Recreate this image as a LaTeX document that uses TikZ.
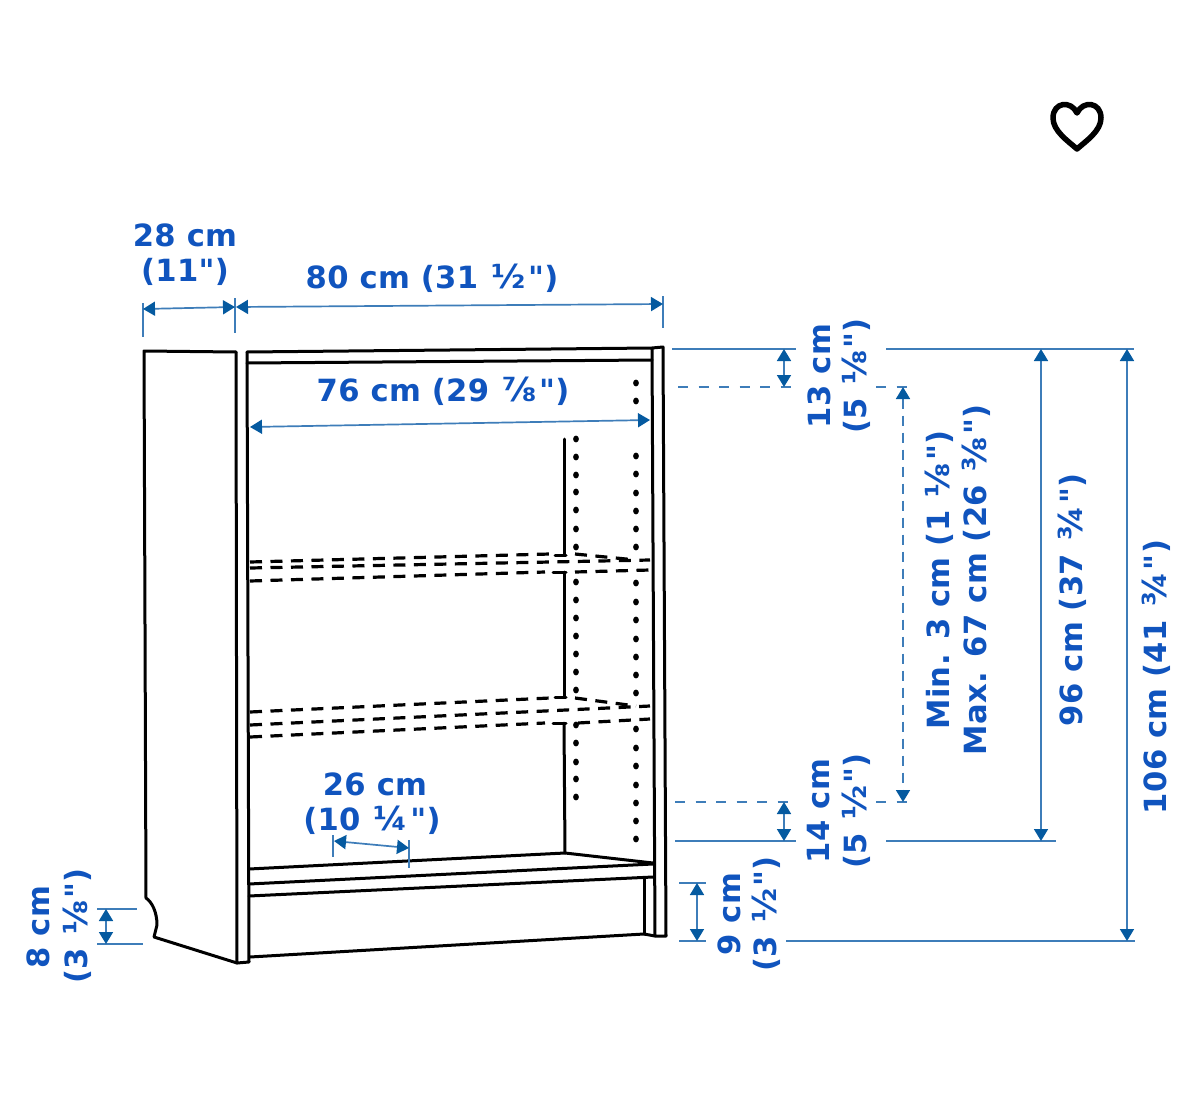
\documentclass[tikz,border=0pt]{standalone}
\usepackage{fontspec}
\setmainfont{DejaVu Sans}[Ligatures=TeXOff,LetterSpace=1]
\usetikzlibrary{arrows.meta}
\definecolor{dimline}{RGB}{62,125,185}
\definecolor{dimhead}{RGB}{5,90,160}
\definecolor{dimtext}{RGB}{16,84,190}
\newcommand{\fracglyph}[1]{\hspace{.08em}{\fontsize{33}{36}\selectfont #1}\hspace{.08em}}
\tikzset{
  ink/.style={draw=black,line width=3pt,line cap=round,line join=round},
  shelfdash/.style={draw=black,line width=3.2pt,dash pattern=on 12pt off 8.5pt},
  dimrule/.style={draw=dimline,line width=1.7pt},
  dimdash/.style={draw=dimline,line width=1.5pt,dash pattern=on 10pt off 10.5pt},
  dimarrow/.style={draw=dimline,line width=1.7pt,{Triangle[length=12pt,width=14pt,color=dimhead,fill=dimhead]}-{Triangle[length=12pt,width=14pt,color=dimhead,fill=dimhead]}},
  dimlabel/.style={text=dimtext,font=\fontsize{30.6}{36}\selectfont\bfseries,inner sep=0pt,anchor=center},
  uplabel/.style={dimlabel,rotate=90},
  hole/.style={fill=black,draw=none}
}
\begin{document}
\begin{tikzpicture}[x=1pt,y=-1pt]
\path[use as bounding box,fill=white] (0,0) rectangle (1200,1116);

% heart
\draw[line width=5.5pt,line join=round,black] (1077,149)
  .. controls (1068,141) and (1053,131) .. (1053,118)
  .. controls (1053,102) and (1071,100) .. (1077,113)
  .. controls (1083,100) and (1101,102) .. (1101,118)
  .. controls (1101,131) and (1086,141) .. (1077,149) -- cycle;

% side panel
\draw[ink] (236,352) -- (144,351) -- (146,898)
  .. controls (152,902) and (157,912) .. (157,925) -- (154,937) -- (237,963) -- (249,962) -- (247,352);
\draw[ink] (236,352) -- (237,963);
% top
\draw[ink] (247,352) -- (652,348) -- (663,347) -- (666,936) -- (655,936) -- (652,348);
\draw[ink] (247,363) -- (652,360);
% back board edge
\draw[ink] (564,439) -- (564,555);
\draw[ink] (555,555) -- (566,555);
\draw[ink] (564,572) -- (564,697);
\draw[ink] (553,572) -- (566,572);
\draw[ink] (555,697) -- (566,697);
\draw[ink] (564,723) -- (565,853);
\draw[ink] (553,723) -- (566,723);
% bottom shelf and plinth
\draw[ink] (249,869) -- (565,853) -- (653,863);
\draw[ink] (249,884) -- (653,864);
\draw[ink] (249,896) -- (653,877);
\draw[ink] (250,957) -- (644,934) -- (655,936);
\draw[ink] (644,878) -- (644,934);
% adjustable shelves
\draw[shelfdash] (250,562) -- (550,554);
\draw[shelfdash] (575,554) -- (636,560);
\draw[shelfdash] (250,568) -- (650,560);
\draw[shelfdash] (250,581) -- (545,572);
\draw[shelfdash] (575,572) -- (650,570);
\draw[shelfdash] (250,712) -- (550,698);
\draw[shelfdash] (575,698) -- (636,706);
\draw[shelfdash] (250,725) -- (650,706);
\draw[shelfdash] (250,737) -- (545,723);
\draw[shelfdash] (578,723) -- (650,719);
% shelf pin holes
\foreach \py in {439,457,475,492,510,529,547,582,600,618,636,654,672,690,725,743,762,779,797}
  \fill[hole] (576,\py) ellipse (2.9pt and 3.4pt);
\foreach \py in {383,401,456,474,493,511,529,547,583,602,620,639,657,675,693,729,748,766,785,803,821,839}
  \fill[hole] (636,\py) ellipse (2.9pt and 3.4pt);

% named dimension end points
\coordinate (dL) at (143,309); \coordinate (dM) at (235,307); \coordinate (wL) at (236,307); \coordinate (wR) at (663,304);
\coordinate (iL) at (250,427); \coordinate (iR) at (650,420);
\coordinate (sL) at (334,841); \coordinate (sR) at (409,848);
\coordinate (fT) at (106,909); \coordinate (fB) at (106,944);
\coordinate (pT) at (697,883); \coordinate (pB) at (697,941);
\coordinate (tT) at (784,349); \coordinate (tB) at (784,387);
\coordinate (bT) at (784,802); \coordinate (bB) at (784,841);
\coordinate (mT) at (903,387); \coordinate (mB) at (903,802);
\coordinate (hT) at (1041,349); \coordinate (hB) at (1041,841);
\coordinate (aT) at (1127,349); \coordinate (aB) at (1127,941);

% extension lines
\draw[dimrule] (143,303) -- (143,337);
\draw[dimrule] (235,298) -- (235,333);
\draw[dimrule] (663,296) -- (663,328);
\draw[dimrule] (333,835) -- (333,857);
\draw[dimrule] (409,840) -- (409,868);
\draw[dimrule] (97,909) -- (137,909);
\draw[dimrule] (97,944) -- (143,944);
\draw[dimrule] (679,883) -- (706,883);
\draw[dimrule] (679,941) -- (706,941);
\draw[dimrule] (672,349) -- (796,349);
\draw[dimrule] (886,349) -- (1134,349);
\draw[dimrule] (675,841) -- (796,841);
\draw[dimrule] (886,841) -- (1056,841);
\draw[dimrule] (786,941) -- (1135,941);
\draw[dimdash] (678,387) -- (792,387);
\draw[dimdash] (876,387) -- (908,387);
\draw[dimdash] (675,802) -- (790,802);
\draw[dimdash] (876,802) -- (908,802);

% dimension arrows
\draw[dimarrow] (dL) -- (dM);
\draw[dimarrow] (wL) -- (wR);
\draw[dimarrow] (iL) -- (iR);
\draw[dimarrow] (sL) -- (sR);
\draw[dimarrow] (fT) -- (fB);
\draw[dimarrow] (pT) -- (pB);
\draw[dimarrow] (tT) -- (tB);
\draw[dimarrow] (bT) -- (bB);
\draw[dimarrow,dash pattern=on 10pt off 7pt] (mT) -- (mB);
\draw[dimarrow] (hT) -- (hB);
\draw[dimarrow] (aT) -- (aB);

% labels
\node[dimlabel] (tDepthA) at (185,235) {28 cm};
\node[dimlabel] (tDepthB) at (185,272) {(11")};
\node[dimlabel] (tWidth) at (432,278) {80 cm (31 \fracglyph{½}")};
\node[dimlabel] (tInner) at (443,391) {76 cm (29 \fracglyph{⅞}")};
\node[dimlabel] (tShelfA) at (375,784) {26 cm};
\node[dimlabel] (tShelfB) at (372,820) {(10 \fracglyph{¼}")};
\node[uplabel] (tFootA) at (38,927) {8 cm};
\node[uplabel] (tFootB) at (77,926) {(3 \fracglyph{⅛}")};
\node[uplabel] (tPlinthA) at (729,914) {9 cm};
\node[uplabel] (tPlinthB) at (766,914) {(3 \fracglyph{½}")};
\node[uplabel] (tTopA) at (819,376) {13 cm};
\node[uplabel] (tTopB) at (856,376) {(5 \fracglyph{⅛}")};
\node[uplabel] (tBotA) at (819,811) {14 cm};
\node[uplabel] (tBotB) at (856,811) {(5 \fracglyph{½}")};
\node[uplabel] (tMin) at (939,580) {Min. 3 cm (1 \fracglyph{⅛}")};
\node[uplabel] (tMax) at (976,580) {Max. 67 cm (26 \fracglyph{⅜}")};
\node[uplabel] (tClear) at (1072,600) {96 cm (37 \fracglyph{¾}")};
\node[uplabel] (tTotal) at (1156,677) {106 cm (41 \fracglyph{¾}")};
\end{tikzpicture}
\end{document}
